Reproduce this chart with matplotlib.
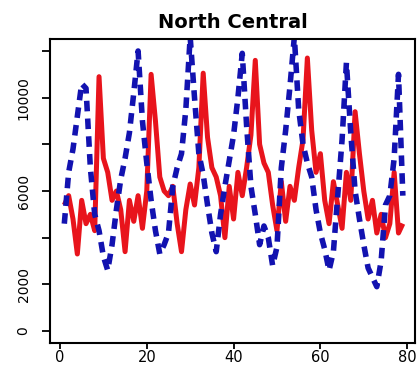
import matplotlib
matplotlib.use("Agg")
import matplotlib.pyplot as plt
import numpy as np

# --- series (monthly index 1..79) ---
months = list(range(1, 80))

observed = [
    4600, 6800, 7800, 9200, 10600, 10400, 7000, 5000, 4300, 3200,
    2600, 3700, 5200, 6500, 7400, 8500, 10200, 12000, 9000, 7200,
    5600, 4300, 3300, 3700, 4200, 6200, 7000, 7600, 9500, 12600,
    10000, 7600, 6700, 5400, 4200, 3400, 5000, 6200, 7300, 8400,
    10000, 11900, 8800, 6200, 5000, 3700, 4500, 4000, 2800, 3600,
    7000, 8600, 10500, 12600, 9500, 8000, 7200, 6600, 5200, 4200,
    3500, 2600, 3400, 5800, 8200, 11500, 8500, 6000, 4800, 3700,
    2700, 2300, 1900, 3000, 5400, 5800, 7400, 11000, 5800,
]

fitted = [
    5400, 5800, 4800, 3300, 5600, 4600, 5000, 4300, 10900, 7400,
    6800, 5600, 6000, 5200, 3400, 5600, 4700, 5800, 4400, 6000,
    11000, 9000, 6600, 6000, 5800, 6200, 4600, 3400, 5200, 6300,
    5400, 7000, 11050, 8300, 7000, 6600, 5800, 4000, 6200, 4800,
    6800, 5800, 7000, 8400, 11600, 8000, 7200, 6800, 5400, 4300,
    6400, 4700, 6200, 5600, 7000, 8200, 11700, 8600, 6800, 7600,
    5600, 4600, 6400, 5400, 4400, 6800, 5600, 9400, 7600, 6000,
    4800, 5600, 4200, 5000, 4000, 4600, 6800, 4200, 4600,
]

xticks = [0, 20, 40, 60, 80]
yticks = [0, 2000, 4000, 6000, 8000, 10000, 12000]
ylabels = ["0", "2000", "", "6000", "", "10000", ""]

fig = plt.figure(figsize=(4.18, 3.67), dpi=100)
ax = fig.add_axes([0.1196, 0.0654, 0.8732, 0.8283])

ax.plot(months, fitted, color="#e8141c", lw=3.6, solid_capstyle="butt")
ax.plot(months, observed, color="#1212b0", lw=4.0, dashes=(1.9, 1.3))

ax.set_xlim(-2.3, 81.8)
ax.set_ylim(-514, 12514)

ax.set_xticks(xticks)
ax.set_xticklabels([str(t) for t in xticks], fontsize=10.5)
ax.set_yticks(yticks)
ax.set_yticklabels(ylabels, fontsize=10, rotation=90, va="center")

ax.tick_params(axis="x", length=4, width=1.3, pad=1)
ax.tick_params(axis="y", length=6, width=1.3, pad=8)
for s in ax.spines.values():
    s.set_linewidth(1.5)

ax.set_title("North Central", fontsize=14, fontweight="bold", pad=8)

fig.savefig("out.png", dpi=100)
